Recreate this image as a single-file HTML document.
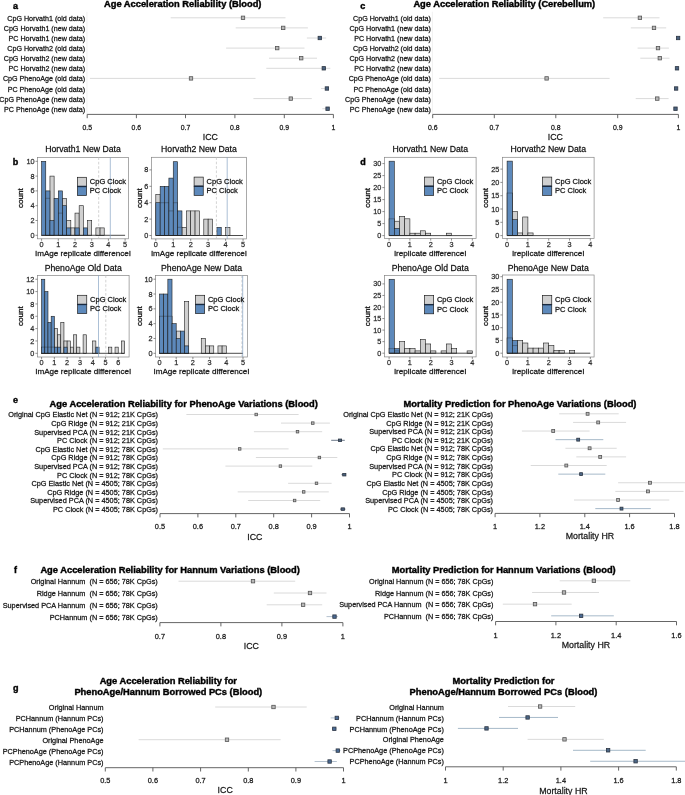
<!DOCTYPE html>
<html><head><meta charset="utf-8"><style>
html,body{margin:0;padding:0;background:#fff;}
svg{display:block;will-change:transform;} text{stroke:#000;stroke-width:0.3px;stroke-opacity:0.7;white-space:pre} text[font-weight=bold]{stroke-width:0.45px;stroke-opacity:0.9}
</style></head><body>
<svg width="685" height="795" viewBox="0 0 685 795" font-family='"Liberation Sans", sans-serif'>
<rect x="0.00" y="0.00" width="685.00" height="795.00" fill="#fff" stroke="none" stroke-width="0" />
<text x="12.90" y="8.80" font-size="9.0" text-anchor="start" font-weight="bold" fill="#000" >a</text>
<text x="360.30" y="8.80" font-size="9.0" text-anchor="start" font-weight="bold" fill="#000" >c</text>
<text x="12.80" y="164.50" font-size="9.0" text-anchor="start" font-weight="bold" fill="#000" >b</text>
<text x="360.30" y="164.50" font-size="9.0" text-anchor="start" font-weight="bold" fill="#000" >d</text>
<text x="12.90" y="403.20" font-size="9.0" text-anchor="start" font-weight="bold" fill="#000" >e</text>
<text x="14.00" y="573.40" font-size="9.0" text-anchor="start" font-weight="bold" fill="#000" >f</text>
<text x="12.90" y="690.60" font-size="9.0" text-anchor="start" font-weight="bold" fill="#000" >g</text>
<text x="104.00" y="7.10" font-size="9.32" text-anchor="start" font-weight="bold" fill="#000" >Age Acceleration Reliability (Blood)</text>
<text x="413.40" y="7.20" font-size="9.32" text-anchor="start" font-weight="bold" fill="#000" >Age Acceleration Reliability (Cerebellum)</text>
<text x="49.60" y="406.80" font-size="9.32" text-anchor="start" font-weight="bold" fill="#000" >Age Acceleration Reliability for PhenoAge Variations (Blood)</text>
<text x="403.60" y="406.60" font-size="9.32" text-anchor="start" font-weight="bold" fill="#000" >Mortality Prediction for PhenoAge Variations (Blood)</text>
<text x="40.40" y="572.80" font-size="9.32" text-anchor="start" font-weight="bold" fill="#000" >Age Acceleration Reliability for Hannum Variations (Blood)</text>
<text x="391.70" y="572.90" font-size="9.32" text-anchor="start" font-weight="bold" fill="#000" >Mortality Prediction for Hannum Variations (Blood)</text>
<text x="168.30" y="684.10" font-size="9.32" text-anchor="middle" font-weight="bold" fill="#000" >Age Acceleration Reliability for</text>
<text x="168.30" y="695.30" font-size="9.32" text-anchor="middle" font-weight="bold" fill="#000" >PhenoAge/Hannum Borrowed PCs (Blood)</text>
<text x="503.50" y="684.10" font-size="9.32" text-anchor="middle" font-weight="bold" fill="#000" >Mortality Prediction for</text>
<text x="503.50" y="695.30" font-size="9.32" text-anchor="middle" font-weight="bold" fill="#000" >PhenoAge/Hannum Borrowed PCs (Blood)</text>
<text x="85.10" y="20.86" font-size="7.15" text-anchor="end" fill="#111" >CpG Horvath1 (old data)</text>
<text x="85.10" y="30.96" font-size="7.15" text-anchor="end" fill="#111" >CpG Horvath1 (new data)</text>
<text x="85.10" y="41.06" font-size="7.15" text-anchor="end" fill="#111" >PC Horvath1 (new data)</text>
<text x="85.10" y="51.16" font-size="7.15" text-anchor="end" fill="#111" >CpG Horvath2 (old data)</text>
<text x="85.10" y="61.26" font-size="7.15" text-anchor="end" fill="#111" >CpG Horvath2 (new data)</text>
<text x="85.10" y="71.36" font-size="7.15" text-anchor="end" fill="#111" >PC Horvath2 (new data)</text>
<text x="85.10" y="81.46" font-size="7.15" text-anchor="end" fill="#111" >CpG PhenoAge (old data)</text>
<text x="85.10" y="91.56" font-size="7.15" text-anchor="end" fill="#111" >PC PhenoAge (old data)</text>
<text x="85.10" y="101.66" font-size="7.15" text-anchor="end" fill="#111" >CpG PhenoAge (new data)</text>
<text x="85.10" y="111.76" font-size="7.15" text-anchor="end" fill="#111" >PC PhenoAge (new data)</text>
<line x1="170.70" y1="17.80" x2="285.50" y2="17.80" stroke="#dadada" stroke-width="1.0" />
<line x1="235.70" y1="27.90" x2="307.90" y2="27.90" stroke="#dadada" stroke-width="1.0" />
<line x1="306.90" y1="38.00" x2="326.20" y2="38.00" stroke="#dadada" stroke-width="1.0" />
<line x1="226.10" y1="48.10" x2="304.50" y2="48.10" stroke="#dadada" stroke-width="1.0" />
<line x1="269.00" y1="58.20" x2="317.00" y2="58.20" stroke="#dadada" stroke-width="1.0" />
<line x1="266.30" y1="68.30" x2="330.30" y2="68.30" stroke="#dadada" stroke-width="1.0" />
<line x1="89.90" y1="78.40" x2="255.50" y2="78.40" stroke="#dadada" stroke-width="1.0" />
<line x1="321.00" y1="88.50" x2="328.80" y2="88.50" stroke="#dadada" stroke-width="1.0" />
<line x1="253.40" y1="98.60" x2="311.80" y2="98.60" stroke="#dadada" stroke-width="1.0" />
<line x1="322.30" y1="108.70" x2="329.70" y2="108.70" stroke="#dadada" stroke-width="1.0" />
<rect x="241.30" y="16.10" width="3.40" height="3.40" fill="#b8b8b8" stroke="#555555" stroke-width="0.8" />
<rect x="281.50" y="26.20" width="3.40" height="3.40" fill="#b8b8b8" stroke="#555555" stroke-width="0.8" />
<rect x="318.10" y="36.30" width="3.40" height="3.40" fill="#4b627e" stroke="#2c3542" stroke-width="0.8" />
<rect x="275.50" y="46.40" width="3.40" height="3.40" fill="#b8b8b8" stroke="#555555" stroke-width="0.8" />
<rect x="299.50" y="56.50" width="3.40" height="3.40" fill="#b8b8b8" stroke="#555555" stroke-width="0.8" />
<rect x="322.10" y="66.60" width="3.40" height="3.40" fill="#4b627e" stroke="#2c3542" stroke-width="0.8" />
<rect x="189.30" y="76.70" width="3.40" height="3.40" fill="#b8b8b8" stroke="#555555" stroke-width="0.8" />
<rect x="325.20" y="86.80" width="3.40" height="3.40" fill="#4b627e" stroke="#2c3542" stroke-width="0.8" />
<rect x="289.10" y="96.90" width="3.40" height="3.40" fill="#b8b8b8" stroke="#555555" stroke-width="0.8" />
<rect x="325.90" y="107.00" width="3.40" height="3.40" fill="#4b627e" stroke="#2c3542" stroke-width="0.8" />
<line x1="86.90" y1="11.80" x2="86.90" y2="114.40" stroke="#eeeeee" stroke-width="0.8" />
<line x1="87.20" y1="114.40" x2="333.40" y2="114.40" stroke="#555" stroke-width="0.9" />
<line x1="87.20" y1="114.40" x2="87.20" y2="118.20" stroke="#555" stroke-width="0.9" />
<text x="87.20" y="130.10" font-size="6.9" text-anchor="middle" fill="#222" >0.5</text>
<line x1="136.40" y1="114.40" x2="136.40" y2="118.20" stroke="#555" stroke-width="0.9" />
<text x="136.40" y="130.10" font-size="6.9" text-anchor="middle" fill="#222" >0.6</text>
<line x1="185.50" y1="114.40" x2="185.50" y2="118.20" stroke="#555" stroke-width="0.9" />
<text x="185.50" y="130.10" font-size="6.9" text-anchor="middle" fill="#222" >0.7</text>
<line x1="234.90" y1="114.40" x2="234.90" y2="118.20" stroke="#555" stroke-width="0.9" />
<text x="234.90" y="130.10" font-size="6.9" text-anchor="middle" fill="#222" >0.8</text>
<line x1="284.30" y1="114.40" x2="284.30" y2="118.20" stroke="#555" stroke-width="0.9" />
<text x="284.30" y="130.10" font-size="6.9" text-anchor="middle" fill="#222" >0.9</text>
<line x1="333.40" y1="114.40" x2="333.40" y2="118.20" stroke="#555" stroke-width="0.9" />
<text x="333.40" y="130.10" font-size="6.9" text-anchor="middle" fill="#222" >1</text>
<text x="210.30" y="140.20" font-size="8.8" text-anchor="middle" fill="#222" >ICC</text>
<text x="430.80" y="20.86" font-size="7.15" text-anchor="end" fill="#111" >CpG Horvath1 (old data)</text>
<text x="430.80" y="30.96" font-size="7.15" text-anchor="end" fill="#111" >CpG Horvath1 (new data)</text>
<text x="430.80" y="41.06" font-size="7.15" text-anchor="end" fill="#111" >PC Horvath1 (new data)</text>
<text x="430.80" y="51.16" font-size="7.15" text-anchor="end" fill="#111" >CpG Horvath2 (old data)</text>
<text x="430.80" y="61.26" font-size="7.15" text-anchor="end" fill="#111" >CpG Horvath2 (new data)</text>
<text x="430.80" y="71.36" font-size="7.15" text-anchor="end" fill="#111" >PC Horvath2 (new data)</text>
<text x="430.80" y="81.46" font-size="7.15" text-anchor="end" fill="#111" >CpG PhenoAge (old data)</text>
<text x="430.80" y="91.56" font-size="7.15" text-anchor="end" fill="#111" >PC PhenoAge (old data)</text>
<text x="430.80" y="101.66" font-size="7.15" text-anchor="end" fill="#111" >CpG PhenoAge (new data)</text>
<text x="430.80" y="111.76" font-size="7.15" text-anchor="end" fill="#111" >PC PhenoAge (new data)</text>
<line x1="603.20" y1="17.80" x2="659.50" y2="17.80" stroke="#dadada" stroke-width="1.0" />
<line x1="630.80" y1="27.90" x2="666.20" y2="27.90" stroke="#dadada" stroke-width="1.0" />
<line x1="676.50" y1="38.00" x2="679.50" y2="38.00" stroke="#dadada" stroke-width="1.0" />
<line x1="637.60" y1="48.10" x2="668.90" y2="48.10" stroke="#dadada" stroke-width="1.0" />
<line x1="640.30" y1="58.20" x2="669.50" y2="58.20" stroke="#dadada" stroke-width="1.0" />
<line x1="675.50" y1="68.30" x2="678.50" y2="68.30" stroke="#dadada" stroke-width="1.0" />
<line x1="439.20" y1="78.40" x2="609.60" y2="78.40" stroke="#dadada" stroke-width="1.0" />
<line x1="674.50" y1="88.50" x2="677.50" y2="88.50" stroke="#dadada" stroke-width="1.0" />
<line x1="635.70" y1="98.60" x2="668.60" y2="98.60" stroke="#dadada" stroke-width="1.0" />
<line x1="674.00" y1="108.70" x2="677.00" y2="108.70" stroke="#dadada" stroke-width="1.0" />
<rect x="638.20" y="16.10" width="3.40" height="3.40" fill="#b8b8b8" stroke="#555555" stroke-width="0.8" />
<rect x="652.30" y="26.20" width="3.40" height="3.40" fill="#b8b8b8" stroke="#555555" stroke-width="0.8" />
<rect x="676.40" y="36.30" width="3.40" height="3.40" fill="#4b627e" stroke="#2c3542" stroke-width="0.8" />
<rect x="656.30" y="46.40" width="3.40" height="3.40" fill="#b8b8b8" stroke="#555555" stroke-width="0.8" />
<rect x="658.10" y="56.50" width="3.40" height="3.40" fill="#b8b8b8" stroke="#555555" stroke-width="0.8" />
<rect x="675.30" y="66.60" width="3.40" height="3.40" fill="#4b627e" stroke="#2c3542" stroke-width="0.8" />
<rect x="544.90" y="76.70" width="3.40" height="3.40" fill="#b8b8b8" stroke="#555555" stroke-width="0.8" />
<rect x="674.40" y="86.80" width="3.40" height="3.40" fill="#4b627e" stroke="#2c3542" stroke-width="0.8" />
<rect x="655.60" y="96.90" width="3.40" height="3.40" fill="#b8b8b8" stroke="#555555" stroke-width="0.8" />
<rect x="673.80" y="107.00" width="3.40" height="3.40" fill="#4b627e" stroke="#2c3542" stroke-width="0.8" />
<line x1="432.40" y1="11.80" x2="432.40" y2="114.40" stroke="#eeeeee" stroke-width="0.8" />
<line x1="432.70" y1="114.40" x2="678.40" y2="114.40" stroke="#555" stroke-width="0.9" />
<line x1="432.70" y1="114.40" x2="432.70" y2="118.20" stroke="#555" stroke-width="0.9" />
<text x="432.70" y="130.10" font-size="6.9" text-anchor="middle" fill="#222" >0.6</text>
<line x1="494.30" y1="114.40" x2="494.30" y2="118.20" stroke="#555" stroke-width="0.9" />
<text x="494.30" y="130.10" font-size="6.9" text-anchor="middle" fill="#222" >0.7</text>
<line x1="555.80" y1="114.40" x2="555.80" y2="118.20" stroke="#555" stroke-width="0.9" />
<text x="555.80" y="130.10" font-size="6.9" text-anchor="middle" fill="#222" >0.8</text>
<line x1="617.70" y1="114.40" x2="617.70" y2="118.20" stroke="#555" stroke-width="0.9" />
<text x="617.70" y="130.10" font-size="6.9" text-anchor="middle" fill="#222" >0.9</text>
<line x1="678.40" y1="114.40" x2="678.40" y2="118.20" stroke="#555" stroke-width="0.9" />
<text x="678.40" y="130.10" font-size="6.9" text-anchor="middle" fill="#222" >1</text>
<text x="555.40" y="140.40" font-size="8.8" text-anchor="middle" fill="#222" >ICC</text>
<text x="158.00" y="417.30" font-size="7.32" text-anchor="end" fill="#111" >Original CpG Elastic Net (N = 912; 21K CpGs)</text>
<text x="158.00" y="425.90" font-size="7.32" text-anchor="end" fill="#111" >CpG Ridge (N = 912; 21K CpGs)</text>
<text x="158.00" y="434.50" font-size="7.32" text-anchor="end" fill="#111" >Supervised PCA (N = 912; 21K CpGs)</text>
<text x="158.00" y="443.10" font-size="7.32" text-anchor="end" fill="#111" >PC Clock (N = 912; 21K CpGs)</text>
<text x="158.00" y="451.70" font-size="7.32" text-anchor="end" fill="#111" >CpG Elastic Net (N = 912; 78K CpGs)</text>
<text x="158.00" y="460.30" font-size="7.32" text-anchor="end" fill="#111" >CpG Ridge (N = 912; 78K CpGs)</text>
<text x="158.00" y="468.90" font-size="7.32" text-anchor="end" fill="#111" >Supervised PCA (N = 912; 78K CpGs)</text>
<text x="158.00" y="477.50" font-size="7.32" text-anchor="end" fill="#111" >PC Clock (N = 912; 78K CpGs)</text>
<text x="158.00" y="486.10" font-size="7.32" text-anchor="end" fill="#111" >CpG Elastic Net (N = 4505; 78K CpGs)</text>
<text x="158.00" y="494.70" font-size="7.32" text-anchor="end" fill="#111" >CpG Ridge (N = 4505; 78K CpGs)</text>
<text x="158.00" y="503.30" font-size="7.32" text-anchor="end" fill="#111" >Supervised PCA (N = 4505; 78K CpGs)</text>
<text x="158.00" y="511.90" font-size="7.32" text-anchor="end" fill="#111" >PC Clock (N = 4505; 78K CpGs)</text>
<line x1="186.40" y1="414.50" x2="298.60" y2="414.50" stroke="#dadada" stroke-width="1.0" />
<line x1="281.00" y1="423.10" x2="329.90" y2="423.10" stroke="#dadada" stroke-width="1.0" />
<line x1="253.90" y1="431.70" x2="322.20" y2="431.70" stroke="#dadada" stroke-width="1.0" />
<line x1="331.20" y1="440.30" x2="344.80" y2="440.30" stroke="#6d7a8a" stroke-width="1.0" />
<line x1="162.80" y1="448.90" x2="288.60" y2="448.90" stroke="#dadada" stroke-width="1.0" />
<line x1="255.90" y1="457.50" x2="337.30" y2="457.50" stroke="#dadada" stroke-width="1.0" />
<line x1="225.40" y1="466.10" x2="312.30" y2="466.10" stroke="#dadada" stroke-width="1.0" />
<line x1="341.50" y1="474.70" x2="345.50" y2="474.70" stroke="#6d7a8a" stroke-width="1.0" />
<line x1="288.10" y1="483.30" x2="331.60" y2="483.30" stroke="#dadada" stroke-width="1.0" />
<line x1="237.70" y1="491.90" x2="328.80" y2="491.90" stroke="#dadada" stroke-width="1.0" />
<line x1="248.20" y1="500.50" x2="320.20" y2="500.50" stroke="#dadada" stroke-width="1.0" />
<line x1="340.00" y1="509.10" x2="345.50" y2="509.10" stroke="#6d7a8a" stroke-width="1.0" />
<rect x="254.95" y="413.25" width="2.50" height="2.50" fill="#b8b8b8" stroke="#555555" stroke-width="0.8" />
<rect x="311.55" y="421.85" width="2.50" height="2.50" fill="#b8b8b8" stroke="#555555" stroke-width="0.8" />
<rect x="296.25" y="430.45" width="2.50" height="2.50" fill="#b8b8b8" stroke="#555555" stroke-width="0.8" />
<rect x="338.40" y="439.05" width="3.20" height="2.50" fill="#4b627e" stroke="#2c3542" stroke-width="0.8" />
<rect x="238.45" y="447.65" width="2.50" height="2.50" fill="#b8b8b8" stroke="#555555" stroke-width="0.8" />
<rect x="318.15" y="456.25" width="2.50" height="2.50" fill="#b8b8b8" stroke="#555555" stroke-width="0.8" />
<rect x="279.15" y="464.85" width="2.50" height="2.50" fill="#b8b8b8" stroke="#555555" stroke-width="0.8" />
<rect x="342.70" y="473.45" width="3.20" height="2.50" fill="#4b627e" stroke="#2c3542" stroke-width="0.8" />
<rect x="315.25" y="482.05" width="2.50" height="2.50" fill="#b8b8b8" stroke="#555555" stroke-width="0.8" />
<rect x="302.45" y="490.65" width="2.50" height="2.50" fill="#b8b8b8" stroke="#555555" stroke-width="0.8" />
<rect x="293.35" y="499.25" width="2.50" height="2.50" fill="#b8b8b8" stroke="#555555" stroke-width="0.8" />
<rect x="341.20" y="507.85" width="3.20" height="2.50" fill="#4b627e" stroke="#2c3542" stroke-width="0.8" />
<line x1="160.00" y1="513.60" x2="349.50" y2="513.60" stroke="#555" stroke-width="0.9" />
<line x1="160.00" y1="513.60" x2="160.00" y2="517.40" stroke="#555" stroke-width="0.9" />
<text x="160.00" y="529.00" font-size="7.4" text-anchor="middle" fill="#222" >0.5</text>
<line x1="197.90" y1="513.60" x2="197.90" y2="517.40" stroke="#555" stroke-width="0.9" />
<text x="197.90" y="529.00" font-size="7.4" text-anchor="middle" fill="#222" >0.6</text>
<line x1="235.80" y1="513.60" x2="235.80" y2="517.40" stroke="#555" stroke-width="0.9" />
<text x="235.80" y="529.00" font-size="7.4" text-anchor="middle" fill="#222" >0.7</text>
<line x1="273.70" y1="513.60" x2="273.70" y2="517.40" stroke="#555" stroke-width="0.9" />
<text x="273.70" y="529.00" font-size="7.4" text-anchor="middle" fill="#222" >0.8</text>
<line x1="311.60" y1="513.60" x2="311.60" y2="517.40" stroke="#555" stroke-width="0.9" />
<text x="311.60" y="529.00" font-size="7.4" text-anchor="middle" fill="#222" >0.9</text>
<line x1="349.50" y1="513.60" x2="349.50" y2="517.40" stroke="#555" stroke-width="0.9" />
<text x="349.50" y="529.00" font-size="7.4" text-anchor="middle" fill="#222" >1</text>
<text x="254.80" y="539.60" font-size="8.8" text-anchor="middle" fill="#222" >ICC</text>
<text x="493.00" y="416.92" font-size="7.32" text-anchor="end" fill="#111" >Original CpG Elastic Net (N = 912; 21K CpGs)</text>
<text x="493.00" y="425.54" font-size="7.32" text-anchor="end" fill="#111" >CpG Ridge (N = 912; 21K CpGs)</text>
<text x="493.00" y="434.16" font-size="7.32" text-anchor="end" fill="#111" >Supervised PCA (N = 912; 21K CpGs)</text>
<text x="493.00" y="442.78" font-size="7.32" text-anchor="end" fill="#111" >PC Clock (N = 912; 21K CpGs)</text>
<text x="493.00" y="451.40" font-size="7.32" text-anchor="end" fill="#111" >CpG Elastic Net (N = 912; 78K CpGs)</text>
<text x="493.00" y="460.02" font-size="7.32" text-anchor="end" fill="#111" >CpG Ridge (N = 912; 78K CpGs)</text>
<text x="493.00" y="468.64" font-size="7.32" text-anchor="end" fill="#111" >Supervised PCA (N = 912; 78K CpGs)</text>
<text x="493.00" y="477.26" font-size="7.32" text-anchor="end" fill="#111" >PC Clock (N = 912; 78K CpGs)</text>
<text x="493.00" y="485.88" font-size="7.32" text-anchor="end" fill="#111" >CpG Elastic Net (N = 4505; 78K CpGs)</text>
<text x="493.00" y="494.50" font-size="7.32" text-anchor="end" fill="#111" >CpG Ridge (N = 4505; 78K CpGs)</text>
<text x="493.00" y="503.12" font-size="7.32" text-anchor="end" fill="#111" >Supervised PCA (N = 4505; 78K CpGs)</text>
<text x="493.00" y="511.74" font-size="7.32" text-anchor="end" fill="#111" >PC Clock (N = 4505; 78K CpGs)</text>
<line x1="559.20" y1="413.80" x2="618.70" y2="413.80" stroke="#dadada" stroke-width="1.0" />
<line x1="573.10" y1="422.42" x2="626.10" y2="422.42" stroke="#dadada" stroke-width="1.0" />
<line x1="521.90" y1="431.04" x2="589.60" y2="431.04" stroke="#dadada" stroke-width="1.0" />
<line x1="555.50" y1="439.66" x2="603.30" y2="439.66" stroke="#a6b9c9" stroke-width="1.0" />
<line x1="565.40" y1="448.28" x2="616.70" y2="448.28" stroke="#dadada" stroke-width="1.0" />
<line x1="576.30" y1="456.90" x2="626.10" y2="456.90" stroke="#dadada" stroke-width="1.0" />
<line x1="530.70" y1="465.52" x2="606.70" y2="465.52" stroke="#dadada" stroke-width="1.0" />
<line x1="558.30" y1="474.14" x2="605.30" y2="474.14" stroke="#a6b9c9" stroke-width="1.0" />
<line x1="618.10" y1="482.76" x2="686.00" y2="482.76" stroke="#dadada" stroke-width="1.0" />
<line x1="615.30" y1="491.38" x2="683.60" y2="491.38" stroke="#dadada" stroke-width="1.0" />
<line x1="574.00" y1="500.00" x2="669.30" y2="500.00" stroke="#dadada" stroke-width="1.0" />
<line x1="595.30" y1="508.62" x2="650.80" y2="508.62" stroke="#a6b9c9" stroke-width="1.0" />
<rect x="586.15" y="412.35" width="2.90" height="2.90" fill="#b8b8b8" stroke="#555555" stroke-width="0.8" />
<rect x="596.75" y="420.97" width="2.90" height="2.90" fill="#b8b8b8" stroke="#555555" stroke-width="0.8" />
<rect x="551.75" y="429.59" width="2.90" height="2.90" fill="#b8b8b8" stroke="#555555" stroke-width="0.8" />
<rect x="576.75" y="438.21" width="2.90" height="2.90" fill="#4d6888" stroke="#2c3542" stroke-width="0.8" />
<rect x="588.15" y="446.83" width="2.90" height="2.90" fill="#b8b8b8" stroke="#555555" stroke-width="0.8" />
<rect x="598.75" y="455.45" width="2.90" height="2.90" fill="#b8b8b8" stroke="#555555" stroke-width="0.8" />
<rect x="564.85" y="464.07" width="2.90" height="2.90" fill="#b8b8b8" stroke="#555555" stroke-width="0.8" />
<rect x="579.65" y="472.69" width="2.90" height="2.90" fill="#4d6888" stroke="#2c3542" stroke-width="0.8" />
<rect x="648.55" y="481.31" width="2.90" height="2.90" fill="#b8b8b8" stroke="#555555" stroke-width="0.8" />
<rect x="646.55" y="489.93" width="2.90" height="2.90" fill="#b8b8b8" stroke="#555555" stroke-width="0.8" />
<rect x="616.65" y="498.55" width="2.90" height="2.90" fill="#b8b8b8" stroke="#555555" stroke-width="0.8" />
<rect x="620.05" y="507.17" width="2.90" height="2.90" fill="#4d6888" stroke="#2c3542" stroke-width="0.8" />
<line x1="495.10" y1="513.40" x2="674.50" y2="513.40" stroke="#555" stroke-width="0.9" />
<line x1="495.10" y1="513.40" x2="495.10" y2="517.20" stroke="#555" stroke-width="0.9" />
<text x="495.10" y="529.00" font-size="7.4" text-anchor="middle" fill="#222" >1</text>
<line x1="539.90" y1="513.40" x2="539.90" y2="517.20" stroke="#555" stroke-width="0.9" />
<text x="539.90" y="529.00" font-size="7.4" text-anchor="middle" fill="#222" >1.2</text>
<line x1="584.80" y1="513.40" x2="584.80" y2="517.20" stroke="#555" stroke-width="0.9" />
<text x="584.80" y="529.00" font-size="7.4" text-anchor="middle" fill="#222" >1.4</text>
<line x1="629.60" y1="513.40" x2="629.60" y2="517.20" stroke="#555" stroke-width="0.9" />
<text x="629.60" y="529.00" font-size="7.4" text-anchor="middle" fill="#222" >1.6</text>
<line x1="674.50" y1="513.40" x2="674.50" y2="517.20" stroke="#555" stroke-width="0.9" />
<text x="674.50" y="529.00" font-size="7.4" text-anchor="middle" fill="#222" >1.8</text>
<text x="589.90" y="539.00" font-size="8.8" text-anchor="middle" fill="#222" >Mortality HR</text>
<text x="157.80" y="584.31" font-size="7.3" text-anchor="end" fill="#111" >Original Hannum  (N = 656; 78K CpGs)</text>
<text x="157.80" y="596.11" font-size="7.3" text-anchor="end" fill="#111" >Ridge Hannum  (N = 656; 78K CpGs)</text>
<text x="157.80" y="607.91" font-size="7.3" text-anchor="end" fill="#111" >Supervised PCA Hannum  (N = 656; 78K CpGs)</text>
<text x="157.80" y="619.71" font-size="7.3" text-anchor="end" fill="#111" >PCHannum (N = 656; 78K CpGs)</text>
<line x1="178.50" y1="581.20" x2="295.20" y2="581.20" stroke="#dadada" stroke-width="1.0" />
<line x1="273.80" y1="593.00" x2="326.50" y2="593.00" stroke="#dadada" stroke-width="1.0" />
<line x1="266.70" y1="604.80" x2="322.20" y2="604.80" stroke="#dadada" stroke-width="1.0" />
<line x1="326.50" y1="616.60" x2="337.90" y2="616.60" stroke="#b4c2cf" stroke-width="1.0" />
<rect x="251.30" y="579.50" width="3.40" height="3.40" fill="#b8b8b8" stroke="#555555" stroke-width="0.8" />
<rect x="308.30" y="591.30" width="3.40" height="3.40" fill="#b8b8b8" stroke="#555555" stroke-width="0.8" />
<rect x="301.40" y="603.10" width="3.40" height="3.40" fill="#b8b8b8" stroke="#555555" stroke-width="0.8" />
<rect x="332.80" y="614.90" width="3.40" height="3.40" fill="#4a6a94" stroke="#2c3542" stroke-width="0.8" />
<line x1="159.90" y1="622.60" x2="342.90" y2="622.60" stroke="#555" stroke-width="0.9" />
<line x1="159.90" y1="622.60" x2="159.90" y2="626.40" stroke="#555" stroke-width="0.9" />
<text x="159.90" y="638.80" font-size="7.4" text-anchor="middle" fill="#222" >0.7</text>
<line x1="220.90" y1="622.60" x2="220.90" y2="626.40" stroke="#555" stroke-width="0.9" />
<text x="220.90" y="638.80" font-size="7.4" text-anchor="middle" fill="#222" >0.8</text>
<line x1="281.90" y1="622.60" x2="281.90" y2="626.40" stroke="#555" stroke-width="0.9" />
<text x="281.90" y="638.80" font-size="7.4" text-anchor="middle" fill="#222" >0.9</text>
<line x1="342.90" y1="622.60" x2="342.90" y2="626.40" stroke="#555" stroke-width="0.9" />
<text x="342.90" y="638.80" font-size="7.4" text-anchor="middle" fill="#222" >1</text>
<text x="251.40" y="649.40" font-size="8.8" text-anchor="middle" fill="#222" >ICC</text>
<text x="493.40" y="583.89" font-size="7.25" text-anchor="end" fill="#111" >Original Hannum (N = 656; 78K CpGs)</text>
<text x="493.40" y="595.57" font-size="7.25" text-anchor="end" fill="#111" >Ridge Hannum (N = 656; 78K CpGs)</text>
<text x="493.40" y="607.25" font-size="7.25" text-anchor="end" fill="#111" >Supervised PCA Hannum  (N = 656; 78K CpGs)</text>
<text x="493.40" y="618.93" font-size="7.25" text-anchor="end" fill="#111" >PCHannum  (N = 656; 78K CpGs)</text>
<line x1="559.70" y1="580.80" x2="630.30" y2="580.80" stroke="#dadada" stroke-width="1.0" />
<line x1="532.10" y1="592.48" x2="599.00" y2="592.48" stroke="#dadada" stroke-width="1.0" />
<line x1="502.80" y1="604.16" x2="571.70" y2="604.16" stroke="#dadada" stroke-width="1.0" />
<line x1="551.20" y1="615.84" x2="613.80" y2="615.84" stroke="#a6b9c9" stroke-width="1.0" />
<rect x="592.20" y="579.10" width="3.40" height="3.40" fill="#b8b8b8" stroke="#555555" stroke-width="0.8" />
<rect x="562.30" y="590.78" width="3.40" height="3.40" fill="#b8b8b8" stroke="#555555" stroke-width="0.8" />
<rect x="533.30" y="602.46" width="3.40" height="3.40" fill="#b8b8b8" stroke="#555555" stroke-width="0.8" />
<rect x="579.40" y="614.14" width="3.40" height="3.40" fill="#4a6a94" stroke="#2c3542" stroke-width="0.8" />
<line x1="495.60" y1="621.50" x2="676.50" y2="621.50" stroke="#555" stroke-width="0.9" />
<line x1="495.60" y1="621.50" x2="495.60" y2="625.30" stroke="#555" stroke-width="0.9" />
<text x="495.60" y="638.00" font-size="7.4" text-anchor="middle" fill="#222" >1</text>
<line x1="555.90" y1="621.50" x2="555.90" y2="625.30" stroke="#555" stroke-width="0.9" />
<text x="555.90" y="638.00" font-size="7.4" text-anchor="middle" fill="#222" >1.2</text>
<line x1="616.20" y1="621.50" x2="616.20" y2="625.30" stroke="#555" stroke-width="0.9" />
<text x="616.20" y="638.00" font-size="7.4" text-anchor="middle" fill="#222" >1.4</text>
<line x1="676.50" y1="621.50" x2="676.50" y2="625.30" stroke="#555" stroke-width="0.9" />
<text x="676.50" y="638.00" font-size="7.4" text-anchor="middle" fill="#222" >1.6</text>
<text x="585.90" y="648.00" font-size="8.8" text-anchor="middle" fill="#222" >Mortality HR</text>
<text x="103.50" y="710.11" font-size="7.29" text-anchor="end" fill="#111" >Original Hannum</text>
<text x="103.50" y="721.01" font-size="7.29" text-anchor="end" fill="#111" >PCHannum (Hannum PCs)</text>
<text x="103.50" y="731.91" font-size="7.29" text-anchor="end" fill="#111" >PCHannum (PhenoAge PCs)</text>
<text x="103.50" y="742.81" font-size="7.29" text-anchor="end" fill="#111" >Original PhenoAge</text>
<text x="103.50" y="753.71" font-size="7.29" text-anchor="end" fill="#111" >PCPhenoAge (PhenoAge PCs)</text>
<text x="103.50" y="764.61" font-size="7.29" text-anchor="end" fill="#111" >PCPhenoAge (Hannum PCs)</text>
<line x1="215.20" y1="707.00" x2="306.70" y2="707.00" stroke="#dadada" stroke-width="1.0" />
<line x1="330.70" y1="717.90" x2="339.60" y2="717.90" stroke="#b4c2cf" stroke-width="1.0" />
<line x1="332.00" y1="728.80" x2="336.50" y2="728.80" stroke="#b4c2cf" stroke-width="1.0" />
<line x1="138.60" y1="739.70" x2="280.60" y2="739.70" stroke="#dadada" stroke-width="1.0" />
<line x1="332.50" y1="750.60" x2="340.50" y2="750.60" stroke="#b4c2cf" stroke-width="1.0" />
<line x1="314.60" y1="761.50" x2="336.80" y2="761.50" stroke="#b4c2cf" stroke-width="1.0" />
<rect x="271.80" y="705.30" width="3.40" height="3.40" fill="#b8b8b8" stroke="#555555" stroke-width="0.8" />
<rect x="335.10" y="716.20" width="3.40" height="3.40" fill="#4a6a94" stroke="#2c3542" stroke-width="0.8" />
<rect x="332.60" y="727.10" width="3.40" height="3.40" fill="#4a6a94" stroke="#2c3542" stroke-width="0.8" />
<rect x="225.30" y="738.00" width="3.40" height="3.40" fill="#b8b8b8" stroke="#555555" stroke-width="0.8" />
<rect x="336.10" y="748.90" width="3.40" height="3.40" fill="#4a6a94" stroke="#2c3542" stroke-width="0.8" />
<rect x="327.90" y="759.80" width="3.40" height="3.40" fill="#4a6a94" stroke="#2c3542" stroke-width="0.8" />
<line x1="105.30" y1="767.70" x2="343.50" y2="767.70" stroke="#555" stroke-width="0.9" />
<line x1="105.30" y1="767.70" x2="105.30" y2="771.50" stroke="#555" stroke-width="0.9" />
<text x="105.30" y="783.00" font-size="7.4" text-anchor="middle" fill="#222" >0.5</text>
<line x1="152.90" y1="767.70" x2="152.90" y2="771.50" stroke="#555" stroke-width="0.9" />
<text x="152.90" y="783.00" font-size="7.4" text-anchor="middle" fill="#222" >0.6</text>
<line x1="200.60" y1="767.70" x2="200.60" y2="771.50" stroke="#555" stroke-width="0.9" />
<text x="200.60" y="783.00" font-size="7.4" text-anchor="middle" fill="#222" >0.7</text>
<line x1="248.30" y1="767.70" x2="248.30" y2="771.50" stroke="#555" stroke-width="0.9" />
<text x="248.30" y="783.00" font-size="7.4" text-anchor="middle" fill="#222" >0.8</text>
<line x1="295.90" y1="767.70" x2="295.90" y2="771.50" stroke="#555" stroke-width="0.9" />
<text x="295.90" y="783.00" font-size="7.4" text-anchor="middle" fill="#222" >0.9</text>
<line x1="343.50" y1="767.70" x2="343.50" y2="771.50" stroke="#555" stroke-width="0.9" />
<text x="343.50" y="783.00" font-size="7.4" text-anchor="middle" fill="#222" >1</text>
<text x="225.20" y="793.30" font-size="8.8" text-anchor="middle" fill="#222" >ICC</text>
<text x="443.90" y="709.61" font-size="7.29" text-anchor="end" fill="#111" >Original Hannum</text>
<text x="443.90" y="720.56" font-size="7.29" text-anchor="end" fill="#111" >PCHannum (Hannum PCs)</text>
<text x="443.90" y="731.51" font-size="7.29" text-anchor="end" fill="#111" >PCHannum (PhenoAge PCs)</text>
<text x="443.90" y="742.46" font-size="7.29" text-anchor="end" fill="#111" >Original PhenoAge</text>
<text x="443.90" y="753.41" font-size="7.29" text-anchor="end" fill="#111" >PCPhenoAge (PhenoAge PCs)</text>
<text x="443.90" y="764.36" font-size="7.29" text-anchor="end" fill="#111" >PCPhenoAge (Hannum PCs)</text>
<line x1="508.00" y1="706.50" x2="575.20" y2="706.50" stroke="#dadada" stroke-width="1.0" />
<line x1="499.00" y1="717.45" x2="558.00" y2="717.45" stroke="#a6b9c9" stroke-width="1.0" />
<line x1="457.90" y1="728.40" x2="518.00" y2="728.40" stroke="#a6b9c9" stroke-width="1.0" />
<line x1="527.60" y1="739.35" x2="603.80" y2="739.35" stroke="#dadada" stroke-width="1.0" />
<line x1="573.00" y1="750.30" x2="645.70" y2="750.30" stroke="#a6b9c9" stroke-width="1.0" />
<line x1="590.20" y1="761.25" x2="686.00" y2="761.25" stroke="#a6b9c9" stroke-width="1.0" />
<rect x="538.40" y="704.80" width="3.40" height="3.40" fill="#b8b8b8" stroke="#555555" stroke-width="0.8" />
<rect x="525.90" y="715.75" width="3.40" height="3.40" fill="#4d6888" stroke="#2c3542" stroke-width="0.8" />
<rect x="484.80" y="726.70" width="3.40" height="3.40" fill="#4d6888" stroke="#2c3542" stroke-width="0.8" />
<rect x="562.80" y="737.65" width="3.40" height="3.40" fill="#b8b8b8" stroke="#555555" stroke-width="0.8" />
<rect x="606.40" y="748.60" width="3.40" height="3.40" fill="#4d6888" stroke="#2c3542" stroke-width="0.8" />
<rect x="633.90" y="759.55" width="3.40" height="3.40" fill="#4d6888" stroke="#2c3542" stroke-width="0.8" />
<line x1="445.50" y1="766.80" x2="676.30" y2="766.80" stroke="#555" stroke-width="0.9" />
<line x1="445.50" y1="766.80" x2="445.50" y2="770.60" stroke="#555" stroke-width="0.9" />
<text x="445.50" y="783.00" font-size="7.4" text-anchor="middle" fill="#222" >1</text>
<line x1="503.20" y1="766.80" x2="503.20" y2="770.60" stroke="#555" stroke-width="0.9" />
<text x="503.20" y="783.00" font-size="7.4" text-anchor="middle" fill="#222" >1.2</text>
<line x1="560.90" y1="766.80" x2="560.90" y2="770.60" stroke="#555" stroke-width="0.9" />
<text x="560.90" y="783.00" font-size="7.4" text-anchor="middle" fill="#222" >1.4</text>
<line x1="618.60" y1="766.80" x2="618.60" y2="770.60" stroke="#555" stroke-width="0.9" />
<text x="618.60" y="783.00" font-size="7.4" text-anchor="middle" fill="#222" >1.6</text>
<line x1="676.30" y1="766.80" x2="676.30" y2="770.60" stroke="#555" stroke-width="0.9" />
<text x="676.30" y="783.00" font-size="7.4" text-anchor="middle" fill="#222" >1.8</text>
<text x="563.40" y="794.00" font-size="8.8" text-anchor="middle" fill="#222" >Mortality HR</text>
<rect x="37.50" y="157.40" width="91.00" height="81.40" fill="#fff" stroke="#858585" stroke-width="0.7" />
<rect x="45.77" y="198.30" width="4.17" height="37.00" fill="#d0d0d0" stroke="#1e1e1e" stroke-width="0.6" />
<rect x="49.95" y="176.10" width="4.17" height="59.20" fill="#d0d0d0" stroke="#1e1e1e" stroke-width="0.6" />
<rect x="58.30" y="213.10" width="4.17" height="22.20" fill="#d0d0d0" stroke="#1e1e1e" stroke-width="0.6" />
<rect x="62.48" y="198.30" width="4.17" height="37.00" fill="#d0d0d0" stroke="#1e1e1e" stroke-width="0.6" />
<rect x="66.65" y="220.50" width="4.17" height="14.80" fill="#d0d0d0" stroke="#1e1e1e" stroke-width="0.6" />
<rect x="70.83" y="227.90" width="4.17" height="7.40" fill="#d0d0d0" stroke="#1e1e1e" stroke-width="0.6" />
<rect x="75.00" y="213.10" width="4.17" height="22.20" fill="#d0d0d0" stroke="#1e1e1e" stroke-width="0.6" />
<rect x="79.17" y="205.70" width="4.17" height="29.60" fill="#d0d0d0" stroke="#1e1e1e" stroke-width="0.6" />
<rect x="87.53" y="220.50" width="4.17" height="14.80" fill="#d0d0d0" stroke="#1e1e1e" stroke-width="0.6" />
<rect x="95.88" y="227.90" width="4.17" height="7.40" fill="#d0d0d0" stroke="#1e1e1e" stroke-width="0.6" />
<rect x="100.05" y="227.90" width="4.17" height="7.40" fill="#d0d0d0" stroke="#1e1e1e" stroke-width="0.6" />
<rect x="41.60" y="161.30" width="4.17" height="74.00" fill="#5d89bb" stroke="#1e1e1e" stroke-width="0.6" />
<rect x="45.77" y="190.90" width="4.17" height="44.40" fill="#5d89bb" stroke="#1e1e1e" stroke-width="0.6" />
<rect x="49.95" y="220.50" width="4.17" height="14.80" fill="#5d89bb" stroke="#1e1e1e" stroke-width="0.6" />
<rect x="54.12" y="198.30" width="4.17" height="37.00" fill="#5d89bb" stroke="#1e1e1e" stroke-width="0.6" />
<rect x="58.30" y="190.90" width="4.17" height="44.40" fill="#5d89bb" stroke="#1e1e1e" stroke-width="0.6" />
<rect x="62.48" y="205.70" width="4.17" height="29.60" fill="#5d89bb" stroke="#1e1e1e" stroke-width="0.6" />
<rect x="66.65" y="227.90" width="4.17" height="7.40" fill="#5d89bb" stroke="#1e1e1e" stroke-width="0.6" />
<rect x="75.00" y="227.90" width="4.17" height="7.40" fill="#5d89bb" stroke="#1e1e1e" stroke-width="0.6" />
<rect x="83.35" y="227.90" width="4.17" height="7.40" fill="#5d89bb" stroke="#1e1e1e" stroke-width="0.6" />
<line x1="45.77" y1="198.30" x2="49.95" y2="198.30" stroke="#1e1e1e" stroke-width="0.6" stroke-opacity="0.55"/>
<line x1="58.30" y1="213.10" x2="62.48" y2="213.10" stroke="#1e1e1e" stroke-width="0.6" stroke-opacity="0.55"/>
<line x1="41.60" y1="235.30" x2="125.10" y2="235.30" stroke="#1e1e1e" stroke-width="0.8" />
<line x1="98.70" y1="157.40" x2="98.70" y2="238.80" stroke="#c4c4c4" stroke-width="0.75" stroke-dasharray="2.6,1.8"/>
<line x1="110.30" y1="157.40" x2="110.30" y2="238.80" stroke="#7f9dbf" stroke-width="0.65" />
<line x1="35.50" y1="235.30" x2="37.50" y2="235.30" stroke="#444" stroke-width="0.6" />
<text x="34.50" y="237.86" font-size="7.3" text-anchor="end" fill="#4d4d4d" >0</text>
<line x1="35.50" y1="220.50" x2="37.50" y2="220.50" stroke="#444" stroke-width="0.6" />
<text x="34.50" y="223.06" font-size="7.3" text-anchor="end" fill="#4d4d4d" >2</text>
<line x1="35.50" y1="205.70" x2="37.50" y2="205.70" stroke="#444" stroke-width="0.6" />
<text x="34.50" y="208.26" font-size="7.3" text-anchor="end" fill="#4d4d4d" >4</text>
<line x1="35.50" y1="190.90" x2="37.50" y2="190.90" stroke="#444" stroke-width="0.6" />
<text x="34.50" y="193.46" font-size="7.3" text-anchor="end" fill="#4d4d4d" >6</text>
<line x1="35.50" y1="176.10" x2="37.50" y2="176.10" stroke="#444" stroke-width="0.6" />
<text x="34.50" y="178.66" font-size="7.3" text-anchor="end" fill="#4d4d4d" >8</text>
<line x1="35.50" y1="161.30" x2="37.50" y2="161.30" stroke="#444" stroke-width="0.6" />
<text x="34.50" y="163.86" font-size="7.3" text-anchor="end" fill="#4d4d4d" >10</text>
<line x1="41.60" y1="238.80" x2="41.60" y2="240.80" stroke="#444" stroke-width="0.6" />
<text x="41.60" y="247.00" font-size="7.3" text-anchor="middle" fill="#4d4d4d" >0</text>
<line x1="58.30" y1="238.80" x2="58.30" y2="240.80" stroke="#444" stroke-width="0.6" />
<text x="58.30" y="247.00" font-size="7.3" text-anchor="middle" fill="#4d4d4d" >1</text>
<line x1="75.00" y1="238.80" x2="75.00" y2="240.80" stroke="#444" stroke-width="0.6" />
<text x="75.00" y="247.00" font-size="7.3" text-anchor="middle" fill="#4d4d4d" >2</text>
<line x1="91.70" y1="238.80" x2="91.70" y2="240.80" stroke="#444" stroke-width="0.6" />
<text x="91.70" y="247.00" font-size="7.3" text-anchor="middle" fill="#4d4d4d" >3</text>
<line x1="108.40" y1="238.80" x2="108.40" y2="240.80" stroke="#444" stroke-width="0.6" />
<text x="108.40" y="247.00" font-size="7.3" text-anchor="middle" fill="#4d4d4d" >4</text>
<line x1="125.10" y1="238.80" x2="125.10" y2="240.80" stroke="#444" stroke-width="0.6" />
<text x="125.10" y="247.00" font-size="7.3" text-anchor="middle" fill="#4d4d4d" >5</text>
<rect x="77.40" y="177.30" width="9.15" height="9.15" fill="#d0d0d0" stroke="#1e1e1e" stroke-width="0.7" />
<rect x="77.40" y="186.45" width="9.15" height="9.15" fill="#5d89bb" stroke="#1e1e1e" stroke-width="0.7" />
<line x1="77.40" y1="186.45" x2="86.55" y2="186.45" stroke="#1a2a40" stroke-width="1.4" />
<text x="89.85" y="184.26" font-size="7.5" text-anchor="start" fill="#111" >CpG Clock</text>
<text x="89.85" y="193.41" font-size="7.5" text-anchor="start" fill="#111" >PC Clock</text>
<text x="83.00" y="152.30" font-size="8.68" text-anchor="middle" fill="#111" >Horvath1 New Data</text>
<text x="83.00" y="256.40" font-size="8.1" text-anchor="middle" fill="#111" >ImAge replicate differenceI</text>
<text x="0" y="0" font-size="8.1" text-anchor="middle" fill="#111" transform="translate(23.40,198.10) rotate(-90)" style="stroke-width:0.35px;stroke-opacity:0.8">count</text>
<rect x="151.40" y="157.30" width="95.10" height="81.60" fill="#fff" stroke="#858585" stroke-width="0.7" />
<rect x="155.80" y="194.50" width="4.36" height="41.00" fill="#d0d0d0" stroke="#1e1e1e" stroke-width="0.6" />
<rect x="160.16" y="202.70" width="4.36" height="32.80" fill="#d0d0d0" stroke="#1e1e1e" stroke-width="0.6" />
<rect x="164.53" y="202.70" width="4.36" height="32.80" fill="#d0d0d0" stroke="#1e1e1e" stroke-width="0.6" />
<rect x="168.89" y="210.90" width="4.36" height="24.60" fill="#d0d0d0" stroke="#1e1e1e" stroke-width="0.6" />
<rect x="173.25" y="202.70" width="4.36" height="32.80" fill="#d0d0d0" stroke="#1e1e1e" stroke-width="0.6" />
<rect x="177.61" y="227.30" width="4.36" height="8.20" fill="#d0d0d0" stroke="#1e1e1e" stroke-width="0.6" />
<rect x="181.98" y="227.30" width="4.36" height="8.20" fill="#d0d0d0" stroke="#1e1e1e" stroke-width="0.6" />
<rect x="186.34" y="210.90" width="4.36" height="24.60" fill="#d0d0d0" stroke="#1e1e1e" stroke-width="0.6" />
<rect x="190.70" y="210.90" width="4.36" height="24.60" fill="#d0d0d0" stroke="#1e1e1e" stroke-width="0.6" />
<rect x="195.06" y="210.90" width="4.36" height="24.60" fill="#d0d0d0" stroke="#1e1e1e" stroke-width="0.6" />
<rect x="203.79" y="219.10" width="4.36" height="16.40" fill="#d0d0d0" stroke="#1e1e1e" stroke-width="0.6" />
<rect x="208.15" y="219.10" width="4.36" height="16.40" fill="#d0d0d0" stroke="#1e1e1e" stroke-width="0.6" />
<rect x="225.60" y="227.30" width="4.36" height="8.20" fill="#d0d0d0" stroke="#1e1e1e" stroke-width="0.6" />
<rect x="155.80" y="202.70" width="4.36" height="32.80" fill="#5d89bb" stroke="#1e1e1e" stroke-width="0.6" />
<rect x="160.16" y="186.30" width="4.36" height="49.20" fill="#5d89bb" stroke="#1e1e1e" stroke-width="0.6" />
<rect x="164.53" y="186.30" width="4.36" height="49.20" fill="#5d89bb" stroke="#1e1e1e" stroke-width="0.6" />
<rect x="168.89" y="178.10" width="4.36" height="57.40" fill="#5d89bb" stroke="#1e1e1e" stroke-width="0.6" />
<rect x="173.25" y="161.70" width="4.36" height="73.80" fill="#5d89bb" stroke="#1e1e1e" stroke-width="0.6" />
<rect x="177.61" y="210.90" width="4.36" height="24.60" fill="#5d89bb" stroke="#1e1e1e" stroke-width="0.6" />
<rect x="216.88" y="227.30" width="4.36" height="8.20" fill="#5d89bb" stroke="#1e1e1e" stroke-width="0.6" />
<line x1="160.16" y1="202.70" x2="164.53" y2="202.70" stroke="#1e1e1e" stroke-width="0.6" stroke-opacity="0.55"/>
<line x1="164.53" y1="202.70" x2="168.89" y2="202.70" stroke="#1e1e1e" stroke-width="0.6" stroke-opacity="0.55"/>
<line x1="168.89" y1="210.90" x2="173.25" y2="210.90" stroke="#1e1e1e" stroke-width="0.6" stroke-opacity="0.55"/>
<line x1="173.25" y1="202.70" x2="177.61" y2="202.70" stroke="#1e1e1e" stroke-width="0.6" stroke-opacity="0.55"/>
<line x1="177.61" y1="227.30" x2="181.98" y2="227.30" stroke="#1e1e1e" stroke-width="0.6" stroke-opacity="0.55"/>
<line x1="155.80" y1="235.50" x2="243.05" y2="235.50" stroke="#1e1e1e" stroke-width="0.8" />
<line x1="216.40" y1="157.30" x2="216.40" y2="238.90" stroke="#c4c4c4" stroke-width="0.75" stroke-dasharray="2.6,1.8"/>
<line x1="227.20" y1="157.30" x2="227.20" y2="238.90" stroke="#7f9dbf" stroke-width="0.65" />
<line x1="149.40" y1="235.50" x2="151.40" y2="235.50" stroke="#444" stroke-width="0.6" />
<text x="148.40" y="238.06" font-size="7.3" text-anchor="end" fill="#4d4d4d" >0</text>
<line x1="149.40" y1="219.10" x2="151.40" y2="219.10" stroke="#444" stroke-width="0.6" />
<text x="148.40" y="221.66" font-size="7.3" text-anchor="end" fill="#4d4d4d" >2</text>
<line x1="149.40" y1="202.70" x2="151.40" y2="202.70" stroke="#444" stroke-width="0.6" />
<text x="148.40" y="205.25" font-size="7.3" text-anchor="end" fill="#4d4d4d" >4</text>
<line x1="149.40" y1="186.30" x2="151.40" y2="186.30" stroke="#444" stroke-width="0.6" />
<text x="148.40" y="188.86" font-size="7.3" text-anchor="end" fill="#4d4d4d" >6</text>
<line x1="149.40" y1="169.90" x2="151.40" y2="169.90" stroke="#444" stroke-width="0.6" />
<text x="148.40" y="172.46" font-size="7.3" text-anchor="end" fill="#4d4d4d" >8</text>
<line x1="155.80" y1="238.90" x2="155.80" y2="240.90" stroke="#444" stroke-width="0.6" />
<text x="155.80" y="247.00" font-size="7.3" text-anchor="middle" fill="#4d4d4d" >0</text>
<line x1="173.25" y1="238.90" x2="173.25" y2="240.90" stroke="#444" stroke-width="0.6" />
<text x="173.25" y="247.00" font-size="7.3" text-anchor="middle" fill="#4d4d4d" >1</text>
<line x1="190.70" y1="238.90" x2="190.70" y2="240.90" stroke="#444" stroke-width="0.6" />
<text x="190.70" y="247.00" font-size="7.3" text-anchor="middle" fill="#4d4d4d" >2</text>
<line x1="208.15" y1="238.90" x2="208.15" y2="240.90" stroke="#444" stroke-width="0.6" />
<text x="208.15" y="247.00" font-size="7.3" text-anchor="middle" fill="#4d4d4d" >3</text>
<line x1="225.60" y1="238.90" x2="225.60" y2="240.90" stroke="#444" stroke-width="0.6" />
<text x="225.60" y="247.00" font-size="7.3" text-anchor="middle" fill="#4d4d4d" >4</text>
<line x1="243.05" y1="238.90" x2="243.05" y2="240.90" stroke="#444" stroke-width="0.6" />
<text x="243.05" y="247.00" font-size="7.3" text-anchor="middle" fill="#4d4d4d" >5</text>
<rect x="194.10" y="177.10" width="9.15" height="9.15" fill="#d0d0d0" stroke="#1e1e1e" stroke-width="0.7" />
<rect x="194.10" y="186.25" width="9.15" height="9.15" fill="#5d89bb" stroke="#1e1e1e" stroke-width="0.7" />
<line x1="194.10" y1="186.25" x2="203.25" y2="186.25" stroke="#1a2a40" stroke-width="1.4" />
<text x="206.55" y="184.06" font-size="7.5" text-anchor="start" fill="#111" >CpG Clock</text>
<text x="206.55" y="193.21" font-size="7.5" text-anchor="start" fill="#111" >PC Clock</text>
<text x="198.95" y="152.30" font-size="8.68" text-anchor="middle" fill="#111" >Horvath2 New Data</text>
<text x="198.95" y="256.40" font-size="8.1" text-anchor="middle" fill="#111" >ImAge replicate differenceI</text>
<text x="0" y="0" font-size="8.1" text-anchor="middle" fill="#111" transform="translate(142.40,198.10) rotate(-90)" style="stroke-width:0.35px;stroke-opacity:0.8">count</text>
<rect x="37.40" y="275.40" width="91.70" height="81.60" fill="#fff" stroke="#858585" stroke-width="0.7" />
<rect x="41.60" y="347.13" width="3.19" height="6.17" fill="#d0d0d0" stroke="#1e1e1e" stroke-width="0.6" />
<rect x="44.79" y="347.13" width="3.19" height="6.17" fill="#d0d0d0" stroke="#1e1e1e" stroke-width="0.6" />
<rect x="47.98" y="347.13" width="3.19" height="6.17" fill="#d0d0d0" stroke="#1e1e1e" stroke-width="0.6" />
<rect x="51.18" y="347.13" width="3.19" height="6.17" fill="#d0d0d0" stroke="#1e1e1e" stroke-width="0.6" />
<rect x="54.37" y="328.62" width="3.19" height="24.68" fill="#d0d0d0" stroke="#1e1e1e" stroke-width="0.6" />
<rect x="57.56" y="334.79" width="3.19" height="18.51" fill="#d0d0d0" stroke="#1e1e1e" stroke-width="0.6" />
<rect x="60.76" y="322.45" width="3.19" height="30.85" fill="#d0d0d0" stroke="#1e1e1e" stroke-width="0.6" />
<rect x="63.95" y="340.96" width="3.19" height="12.34" fill="#d0d0d0" stroke="#1e1e1e" stroke-width="0.6" />
<rect x="67.14" y="340.96" width="3.19" height="12.34" fill="#d0d0d0" stroke="#1e1e1e" stroke-width="0.6" />
<rect x="70.33" y="347.13" width="3.19" height="6.17" fill="#d0d0d0" stroke="#1e1e1e" stroke-width="0.6" />
<rect x="73.53" y="334.79" width="3.19" height="18.51" fill="#d0d0d0" stroke="#1e1e1e" stroke-width="0.6" />
<rect x="76.72" y="347.13" width="3.19" height="6.17" fill="#d0d0d0" stroke="#1e1e1e" stroke-width="0.6" />
<rect x="83.10" y="334.79" width="3.19" height="18.51" fill="#d0d0d0" stroke="#1e1e1e" stroke-width="0.6" />
<rect x="92.68" y="340.96" width="3.19" height="12.34" fill="#d0d0d0" stroke="#1e1e1e" stroke-width="0.6" />
<rect x="108.64" y="347.13" width="3.19" height="6.17" fill="#d0d0d0" stroke="#1e1e1e" stroke-width="0.6" />
<rect x="115.03" y="347.13" width="3.19" height="6.17" fill="#d0d0d0" stroke="#1e1e1e" stroke-width="0.6" />
<rect x="121.41" y="340.96" width="3.19" height="12.34" fill="#d0d0d0" stroke="#1e1e1e" stroke-width="0.6" />
<rect x="41.60" y="279.26" width="3.19" height="74.04" fill="#5d89bb" stroke="#1e1e1e" stroke-width="0.6" />
<rect x="44.79" y="291.60" width="3.19" height="61.70" fill="#5d89bb" stroke="#1e1e1e" stroke-width="0.6" />
<rect x="47.98" y="322.45" width="3.19" height="30.85" fill="#5d89bb" stroke="#1e1e1e" stroke-width="0.6" />
<rect x="51.18" y="316.28" width="3.19" height="37.02" fill="#5d89bb" stroke="#1e1e1e" stroke-width="0.6" />
<rect x="54.37" y="347.13" width="3.19" height="6.17" fill="#5d89bb" stroke="#1e1e1e" stroke-width="0.6" />
<rect x="57.56" y="347.13" width="3.19" height="6.17" fill="#5d89bb" stroke="#1e1e1e" stroke-width="0.6" />
<rect x="63.95" y="347.13" width="3.19" height="6.17" fill="#5d89bb" stroke="#1e1e1e" stroke-width="0.6" />
<rect x="95.87" y="347.13" width="3.19" height="6.17" fill="#5d89bb" stroke="#1e1e1e" stroke-width="0.6" />
<line x1="41.60" y1="347.13" x2="44.79" y2="347.13" stroke="#1e1e1e" stroke-width="0.6" stroke-opacity="0.55"/>
<line x1="44.79" y1="347.13" x2="47.98" y2="347.13" stroke="#1e1e1e" stroke-width="0.6" stroke-opacity="0.55"/>
<line x1="47.98" y1="347.13" x2="51.18" y2="347.13" stroke="#1e1e1e" stroke-width="0.6" stroke-opacity="0.55"/>
<line x1="51.18" y1="347.13" x2="54.37" y2="347.13" stroke="#1e1e1e" stroke-width="0.6" stroke-opacity="0.55"/>
<line x1="41.60" y1="353.30" x2="124.60" y2="353.30" stroke="#1e1e1e" stroke-width="0.8" />
<line x1="98.50" y1="275.40" x2="98.50" y2="357.00" stroke="#7f9dbf" stroke-width="0.65" />
<line x1="105.80" y1="275.40" x2="105.80" y2="357.00" stroke="#c4c4c4" stroke-width="0.75" stroke-dasharray="2.6,1.8"/>
<line x1="35.40" y1="353.30" x2="37.40" y2="353.30" stroke="#444" stroke-width="0.6" />
<text x="34.40" y="355.86" font-size="7.3" text-anchor="end" fill="#4d4d4d" >0</text>
<line x1="35.40" y1="340.96" x2="37.40" y2="340.96" stroke="#444" stroke-width="0.6" />
<text x="34.40" y="343.52" font-size="7.3" text-anchor="end" fill="#4d4d4d" >2</text>
<line x1="35.40" y1="328.62" x2="37.40" y2="328.62" stroke="#444" stroke-width="0.6" />
<text x="34.40" y="331.18" font-size="7.3" text-anchor="end" fill="#4d4d4d" >4</text>
<line x1="35.40" y1="316.28" x2="37.40" y2="316.28" stroke="#444" stroke-width="0.6" />
<text x="34.40" y="318.84" font-size="7.3" text-anchor="end" fill="#4d4d4d" >6</text>
<line x1="35.40" y1="303.94" x2="37.40" y2="303.94" stroke="#444" stroke-width="0.6" />
<text x="34.40" y="306.50" font-size="7.3" text-anchor="end" fill="#4d4d4d" >8</text>
<line x1="35.40" y1="291.60" x2="37.40" y2="291.60" stroke="#444" stroke-width="0.6" />
<text x="34.40" y="294.16" font-size="7.3" text-anchor="end" fill="#4d4d4d" >10</text>
<line x1="35.40" y1="279.26" x2="37.40" y2="279.26" stroke="#444" stroke-width="0.6" />
<text x="34.40" y="281.81" font-size="7.3" text-anchor="end" fill="#4d4d4d" >12</text>
<line x1="41.60" y1="357.00" x2="41.60" y2="359.00" stroke="#444" stroke-width="0.6" />
<text x="41.60" y="365.00" font-size="7.3" text-anchor="middle" fill="#4d4d4d" >0</text>
<line x1="54.37" y1="357.00" x2="54.37" y2="359.00" stroke="#444" stroke-width="0.6" />
<text x="54.37" y="365.00" font-size="7.3" text-anchor="middle" fill="#4d4d4d" >1</text>
<line x1="67.14" y1="357.00" x2="67.14" y2="359.00" stroke="#444" stroke-width="0.6" />
<text x="67.14" y="365.00" font-size="7.3" text-anchor="middle" fill="#4d4d4d" >2</text>
<line x1="79.91" y1="357.00" x2="79.91" y2="359.00" stroke="#444" stroke-width="0.6" />
<text x="79.91" y="365.00" font-size="7.3" text-anchor="middle" fill="#4d4d4d" >3</text>
<line x1="92.68" y1="357.00" x2="92.68" y2="359.00" stroke="#444" stroke-width="0.6" />
<text x="92.68" y="365.00" font-size="7.3" text-anchor="middle" fill="#4d4d4d" >4</text>
<line x1="105.45" y1="357.00" x2="105.45" y2="359.00" stroke="#444" stroke-width="0.6" />
<text x="105.45" y="365.00" font-size="7.3" text-anchor="middle" fill="#4d4d4d" >5</text>
<line x1="118.22" y1="357.00" x2="118.22" y2="359.00" stroke="#444" stroke-width="0.6" />
<text x="118.22" y="365.00" font-size="7.3" text-anchor="middle" fill="#4d4d4d" >6</text>
<rect x="77.60" y="295.30" width="9.15" height="9.15" fill="#d0d0d0" stroke="#1e1e1e" stroke-width="0.7" />
<rect x="77.60" y="304.45" width="9.15" height="9.15" fill="#5d89bb" stroke="#1e1e1e" stroke-width="0.7" />
<line x1="77.60" y1="304.45" x2="86.75" y2="304.45" stroke="#1a2a40" stroke-width="1.4" />
<text x="90.05" y="302.25" font-size="7.5" text-anchor="start" fill="#111" >CpG Clock</text>
<text x="90.05" y="311.40" font-size="7.5" text-anchor="start" fill="#111" >PC Clock</text>
<text x="83.25" y="270.70" font-size="8.68" text-anchor="middle" fill="#111" >PhenoAge Old Data</text>
<text x="83.25" y="374.20" font-size="8.1" text-anchor="middle" fill="#111" >ImAge replicate differenceI</text>
<text x="0" y="0" font-size="8.1" text-anchor="middle" fill="#111" transform="translate(23.40,316.20) rotate(-90)" style="stroke-width:0.35px;stroke-opacity:0.8">count</text>
<rect x="155.50" y="275.40" width="92.10" height="81.60" fill="#fff" stroke="#858585" stroke-width="0.7" />
<rect x="159.50" y="316.25" width="4.17" height="37.05" fill="#d0d0d0" stroke="#1e1e1e" stroke-width="0.6" />
<rect x="163.68" y="316.25" width="4.17" height="37.05" fill="#d0d0d0" stroke="#1e1e1e" stroke-width="0.6" />
<rect x="167.85" y="316.25" width="4.17" height="37.05" fill="#d0d0d0" stroke="#1e1e1e" stroke-width="0.6" />
<rect x="176.20" y="331.07" width="4.17" height="22.23" fill="#d0d0d0" stroke="#1e1e1e" stroke-width="0.6" />
<rect x="184.55" y="301.43" width="4.17" height="51.87" fill="#d0d0d0" stroke="#1e1e1e" stroke-width="0.6" />
<rect x="201.25" y="338.48" width="4.17" height="14.82" fill="#d0d0d0" stroke="#1e1e1e" stroke-width="0.6" />
<rect x="205.43" y="345.89" width="4.17" height="7.41" fill="#d0d0d0" stroke="#1e1e1e" stroke-width="0.6" />
<rect x="209.60" y="345.89" width="4.17" height="7.41" fill="#d0d0d0" stroke="#1e1e1e" stroke-width="0.6" />
<rect x="217.95" y="345.89" width="4.17" height="7.41" fill="#d0d0d0" stroke="#1e1e1e" stroke-width="0.6" />
<rect x="222.12" y="345.89" width="4.17" height="7.41" fill="#d0d0d0" stroke="#1e1e1e" stroke-width="0.6" />
<rect x="159.50" y="294.02" width="4.17" height="59.28" fill="#5d89bb" stroke="#1e1e1e" stroke-width="0.6" />
<rect x="163.68" y="294.02" width="4.17" height="59.28" fill="#5d89bb" stroke="#1e1e1e" stroke-width="0.6" />
<rect x="167.85" y="279.20" width="4.17" height="74.10" fill="#5d89bb" stroke="#1e1e1e" stroke-width="0.6" />
<rect x="172.03" y="323.66" width="4.17" height="29.64" fill="#5d89bb" stroke="#1e1e1e" stroke-width="0.6" />
<rect x="176.20" y="338.48" width="4.17" height="14.82" fill="#5d89bb" stroke="#1e1e1e" stroke-width="0.6" />
<rect x="180.38" y="331.07" width="4.17" height="22.23" fill="#5d89bb" stroke="#1e1e1e" stroke-width="0.6" />
<rect x="184.55" y="345.89" width="4.17" height="7.41" fill="#5d89bb" stroke="#1e1e1e" stroke-width="0.6" />
<line x1="159.50" y1="316.25" x2="163.68" y2="316.25" stroke="#1e1e1e" stroke-width="0.6" stroke-opacity="0.55"/>
<line x1="163.68" y1="316.25" x2="167.85" y2="316.25" stroke="#1e1e1e" stroke-width="0.6" stroke-opacity="0.55"/>
<line x1="167.85" y1="316.25" x2="172.03" y2="316.25" stroke="#1e1e1e" stroke-width="0.6" stroke-opacity="0.55"/>
<line x1="159.50" y1="353.30" x2="243.00" y2="353.30" stroke="#1e1e1e" stroke-width="0.8" />
<line x1="241.90" y1="275.40" x2="241.90" y2="357.00" stroke="#c4c4c4" stroke-width="0.75" stroke-dasharray="2.6,1.8"/>
<line x1="242.70" y1="275.40" x2="242.70" y2="357.00" stroke="#7f9dbf" stroke-width="0.65" />
<line x1="153.50" y1="353.30" x2="155.50" y2="353.30" stroke="#444" stroke-width="0.6" />
<text x="152.50" y="355.86" font-size="7.3" text-anchor="end" fill="#4d4d4d" >0</text>
<line x1="153.50" y1="338.48" x2="155.50" y2="338.48" stroke="#444" stroke-width="0.6" />
<text x="152.50" y="341.04" font-size="7.3" text-anchor="end" fill="#4d4d4d" >2</text>
<line x1="153.50" y1="323.66" x2="155.50" y2="323.66" stroke="#444" stroke-width="0.6" />
<text x="152.50" y="326.22" font-size="7.3" text-anchor="end" fill="#4d4d4d" >4</text>
<line x1="153.50" y1="308.84" x2="155.50" y2="308.84" stroke="#444" stroke-width="0.6" />
<text x="152.50" y="311.40" font-size="7.3" text-anchor="end" fill="#4d4d4d" >6</text>
<line x1="153.50" y1="294.02" x2="155.50" y2="294.02" stroke="#444" stroke-width="0.6" />
<text x="152.50" y="296.57" font-size="7.3" text-anchor="end" fill="#4d4d4d" >8</text>
<line x1="153.50" y1="279.20" x2="155.50" y2="279.20" stroke="#444" stroke-width="0.6" />
<text x="152.50" y="281.76" font-size="7.3" text-anchor="end" fill="#4d4d4d" >10</text>
<line x1="159.50" y1="357.00" x2="159.50" y2="359.00" stroke="#444" stroke-width="0.6" />
<text x="159.50" y="365.00" font-size="7.3" text-anchor="middle" fill="#4d4d4d" >0</text>
<line x1="176.20" y1="357.00" x2="176.20" y2="359.00" stroke="#444" stroke-width="0.6" />
<text x="176.20" y="365.00" font-size="7.3" text-anchor="middle" fill="#4d4d4d" >1</text>
<line x1="192.90" y1="357.00" x2="192.90" y2="359.00" stroke="#444" stroke-width="0.6" />
<text x="192.90" y="365.00" font-size="7.3" text-anchor="middle" fill="#4d4d4d" >2</text>
<line x1="209.60" y1="357.00" x2="209.60" y2="359.00" stroke="#444" stroke-width="0.6" />
<text x="209.60" y="365.00" font-size="7.3" text-anchor="middle" fill="#4d4d4d" >3</text>
<line x1="226.30" y1="357.00" x2="226.30" y2="359.00" stroke="#444" stroke-width="0.6" />
<text x="226.30" y="365.00" font-size="7.3" text-anchor="middle" fill="#4d4d4d" >4</text>
<line x1="243.00" y1="357.00" x2="243.00" y2="359.00" stroke="#444" stroke-width="0.6" />
<text x="243.00" y="365.00" font-size="7.3" text-anchor="middle" fill="#4d4d4d" >5</text>
<rect x="195.50" y="295.30" width="9.15" height="9.15" fill="#d0d0d0" stroke="#1e1e1e" stroke-width="0.7" />
<rect x="195.50" y="304.45" width="9.15" height="9.15" fill="#5d89bb" stroke="#1e1e1e" stroke-width="0.7" />
<line x1="195.50" y1="304.45" x2="204.65" y2="304.45" stroke="#1a2a40" stroke-width="1.4" />
<text x="207.95" y="302.25" font-size="7.5" text-anchor="start" fill="#111" >CpG Clock</text>
<text x="207.95" y="311.40" font-size="7.5" text-anchor="start" fill="#111" >PC Clock</text>
<text x="201.55" y="270.70" font-size="8.68" text-anchor="middle" fill="#111" >PhenoAge New Data</text>
<text x="201.55" y="374.20" font-size="8.1" text-anchor="middle" fill="#111" >ImAge replicate differenceI</text>
<text x="0" y="0" font-size="8.1" text-anchor="middle" fill="#111" transform="translate(141.60,316.20) rotate(-90)" style="stroke-width:0.35px;stroke-opacity:0.8">count</text>
<rect x="384.40" y="157.30" width="91.70" height="81.30" fill="#fff" stroke="#858585" stroke-width="0.7" />
<rect x="389.10" y="218.80" width="5.20" height="16.80" fill="#d0d0d0" stroke="#1e1e1e" stroke-width="0.6" />
<rect x="394.30" y="221.20" width="5.20" height="14.40" fill="#d0d0d0" stroke="#1e1e1e" stroke-width="0.6" />
<rect x="399.50" y="216.40" width="5.20" height="19.20" fill="#d0d0d0" stroke="#1e1e1e" stroke-width="0.6" />
<rect x="404.70" y="218.80" width="5.20" height="16.80" fill="#d0d0d0" stroke="#1e1e1e" stroke-width="0.6" />
<rect x="409.90" y="233.20" width="5.20" height="2.40" fill="#d0d0d0" stroke="#1e1e1e" stroke-width="0.6" />
<rect x="415.10" y="233.20" width="5.20" height="2.40" fill="#d0d0d0" stroke="#1e1e1e" stroke-width="0.6" />
<rect x="420.30" y="230.80" width="5.20" height="4.80" fill="#d0d0d0" stroke="#1e1e1e" stroke-width="0.6" />
<rect x="425.50" y="233.20" width="5.20" height="2.40" fill="#d0d0d0" stroke="#1e1e1e" stroke-width="0.6" />
<rect x="446.30" y="233.20" width="5.20" height="2.40" fill="#d0d0d0" stroke="#1e1e1e" stroke-width="0.6" />
<rect x="389.10" y="161.20" width="5.20" height="74.40" fill="#5d89bb" stroke="#1e1e1e" stroke-width="0.6" />
<rect x="394.30" y="228.40" width="5.20" height="7.20" fill="#5d89bb" stroke="#1e1e1e" stroke-width="0.6" />
<line x1="389.10" y1="218.80" x2="394.30" y2="218.80" stroke="#1e1e1e" stroke-width="0.6" stroke-opacity="0.55"/>
<line x1="389.10" y1="235.60" x2="472.30" y2="235.60" stroke="#1e1e1e" stroke-width="0.8" />
<line x1="382.40" y1="235.60" x2="384.40" y2="235.60" stroke="#444" stroke-width="0.6" />
<text x="381.40" y="238.16" font-size="7.3" text-anchor="end" fill="#4d4d4d" >0</text>
<line x1="382.40" y1="223.60" x2="384.40" y2="223.60" stroke="#444" stroke-width="0.6" />
<text x="381.40" y="226.16" font-size="7.3" text-anchor="end" fill="#4d4d4d" >5</text>
<line x1="382.40" y1="211.60" x2="384.40" y2="211.60" stroke="#444" stroke-width="0.6" />
<text x="381.40" y="214.16" font-size="7.3" text-anchor="end" fill="#4d4d4d" >10</text>
<line x1="382.40" y1="199.60" x2="384.40" y2="199.60" stroke="#444" stroke-width="0.6" />
<text x="381.40" y="202.16" font-size="7.3" text-anchor="end" fill="#4d4d4d" >15</text>
<line x1="382.40" y1="187.60" x2="384.40" y2="187.60" stroke="#444" stroke-width="0.6" />
<text x="381.40" y="190.16" font-size="7.3" text-anchor="end" fill="#4d4d4d" >20</text>
<line x1="382.40" y1="175.60" x2="384.40" y2="175.60" stroke="#444" stroke-width="0.6" />
<text x="381.40" y="178.16" font-size="7.3" text-anchor="end" fill="#4d4d4d" >25</text>
<line x1="382.40" y1="163.60" x2="384.40" y2="163.60" stroke="#444" stroke-width="0.6" />
<text x="381.40" y="166.16" font-size="7.3" text-anchor="end" fill="#4d4d4d" >30</text>
<line x1="389.10" y1="238.60" x2="389.10" y2="240.60" stroke="#444" stroke-width="0.6" />
<text x="389.10" y="247.00" font-size="7.3" text-anchor="middle" fill="#4d4d4d" >0</text>
<line x1="409.90" y1="238.60" x2="409.90" y2="240.60" stroke="#444" stroke-width="0.6" />
<text x="409.90" y="247.00" font-size="7.3" text-anchor="middle" fill="#4d4d4d" >1</text>
<line x1="430.70" y1="238.60" x2="430.70" y2="240.60" stroke="#444" stroke-width="0.6" />
<text x="430.70" y="247.00" font-size="7.3" text-anchor="middle" fill="#4d4d4d" >2</text>
<line x1="451.50" y1="238.60" x2="451.50" y2="240.60" stroke="#444" stroke-width="0.6" />
<text x="451.50" y="247.00" font-size="7.3" text-anchor="middle" fill="#4d4d4d" >3</text>
<line x1="472.30" y1="238.60" x2="472.30" y2="240.60" stroke="#444" stroke-width="0.6" />
<text x="472.30" y="247.00" font-size="7.3" text-anchor="middle" fill="#4d4d4d" >4</text>
<rect x="424.50" y="177.10" width="9.15" height="9.15" fill="#d0d0d0" stroke="#1e1e1e" stroke-width="0.7" />
<rect x="424.50" y="186.25" width="9.15" height="9.15" fill="#5d89bb" stroke="#1e1e1e" stroke-width="0.7" />
<line x1="424.50" y1="186.25" x2="433.65" y2="186.25" stroke="#1a2a40" stroke-width="1.4" />
<text x="436.95" y="184.06" font-size="7.5" text-anchor="start" fill="#111" >CpG Clock</text>
<text x="436.95" y="193.21" font-size="7.5" text-anchor="start" fill="#111" >PC Clock</text>
<text x="430.25" y="152.40" font-size="8.68" text-anchor="middle" fill="#111" >Horvath1 New Data</text>
<text x="430.25" y="256.40" font-size="8.1" text-anchor="middle" fill="#111" >Ireplicate differenceI</text>
<text x="0" y="0" font-size="8.1" text-anchor="middle" fill="#111" transform="translate(370.30,197.95) rotate(-90)" style="stroke-width:0.35px;stroke-opacity:0.8">count</text>
<rect x="502.40" y="157.30" width="91.70" height="81.30" fill="#fff" stroke="#858585" stroke-width="0.7" />
<rect x="507.10" y="193.04" width="5.20" height="42.56" fill="#d0d0d0" stroke="#1e1e1e" stroke-width="0.6" />
<rect x="512.30" y="211.66" width="5.20" height="23.94" fill="#d0d0d0" stroke="#1e1e1e" stroke-width="0.6" />
<rect x="517.50" y="232.94" width="5.20" height="2.66" fill="#d0d0d0" stroke="#1e1e1e" stroke-width="0.6" />
<rect x="522.70" y="216.98" width="5.20" height="18.62" fill="#d0d0d0" stroke="#1e1e1e" stroke-width="0.6" />
<rect x="527.90" y="232.94" width="5.20" height="2.66" fill="#d0d0d0" stroke="#1e1e1e" stroke-width="0.6" />
<rect x="507.10" y="161.12" width="5.20" height="74.48" fill="#5d89bb" stroke="#1e1e1e" stroke-width="0.6" />
<rect x="512.30" y="219.64" width="5.20" height="15.96" fill="#5d89bb" stroke="#1e1e1e" stroke-width="0.6" />
<line x1="507.10" y1="193.04" x2="512.30" y2="193.04" stroke="#1e1e1e" stroke-width="0.6" stroke-opacity="0.55"/>
<line x1="507.10" y1="235.60" x2="590.30" y2="235.60" stroke="#1e1e1e" stroke-width="0.8" />
<line x1="500.40" y1="235.60" x2="502.40" y2="235.60" stroke="#444" stroke-width="0.6" />
<text x="499.40" y="238.16" font-size="7.3" text-anchor="end" fill="#4d4d4d" >0</text>
<line x1="500.40" y1="222.30" x2="502.40" y2="222.30" stroke="#444" stroke-width="0.6" />
<text x="499.40" y="224.85" font-size="7.3" text-anchor="end" fill="#4d4d4d" >5</text>
<line x1="500.40" y1="209.00" x2="502.40" y2="209.00" stroke="#444" stroke-width="0.6" />
<text x="499.40" y="211.56" font-size="7.3" text-anchor="end" fill="#4d4d4d" >10</text>
<line x1="500.40" y1="195.70" x2="502.40" y2="195.70" stroke="#444" stroke-width="0.6" />
<text x="499.40" y="198.25" font-size="7.3" text-anchor="end" fill="#4d4d4d" >15</text>
<line x1="500.40" y1="182.40" x2="502.40" y2="182.40" stroke="#444" stroke-width="0.6" />
<text x="499.40" y="184.95" font-size="7.3" text-anchor="end" fill="#4d4d4d" >20</text>
<line x1="500.40" y1="169.10" x2="502.40" y2="169.10" stroke="#444" stroke-width="0.6" />
<text x="499.40" y="171.66" font-size="7.3" text-anchor="end" fill="#4d4d4d" >25</text>
<line x1="507.10" y1="238.60" x2="507.10" y2="240.60" stroke="#444" stroke-width="0.6" />
<text x="507.10" y="247.00" font-size="7.3" text-anchor="middle" fill="#4d4d4d" >0</text>
<line x1="527.90" y1="238.60" x2="527.90" y2="240.60" stroke="#444" stroke-width="0.6" />
<text x="527.90" y="247.00" font-size="7.3" text-anchor="middle" fill="#4d4d4d" >1</text>
<line x1="548.70" y1="238.60" x2="548.70" y2="240.60" stroke="#444" stroke-width="0.6" />
<text x="548.70" y="247.00" font-size="7.3" text-anchor="middle" fill="#4d4d4d" >2</text>
<line x1="569.50" y1="238.60" x2="569.50" y2="240.60" stroke="#444" stroke-width="0.6" />
<text x="569.50" y="247.00" font-size="7.3" text-anchor="middle" fill="#4d4d4d" >3</text>
<line x1="590.30" y1="238.60" x2="590.30" y2="240.60" stroke="#444" stroke-width="0.6" />
<text x="590.30" y="247.00" font-size="7.3" text-anchor="middle" fill="#4d4d4d" >4</text>
<rect x="542.60" y="177.10" width="9.15" height="9.15" fill="#d0d0d0" stroke="#1e1e1e" stroke-width="0.7" />
<rect x="542.60" y="186.25" width="9.15" height="9.15" fill="#5d89bb" stroke="#1e1e1e" stroke-width="0.7" />
<line x1="542.60" y1="186.25" x2="551.75" y2="186.25" stroke="#1a2a40" stroke-width="1.4" />
<text x="555.05" y="184.06" font-size="7.5" text-anchor="start" fill="#111" >CpG Clock</text>
<text x="555.05" y="193.21" font-size="7.5" text-anchor="start" fill="#111" >PC Clock</text>
<text x="548.25" y="152.40" font-size="8.68" text-anchor="middle" fill="#111" >Horvath2 New Data</text>
<text x="548.25" y="256.40" font-size="8.1" text-anchor="middle" fill="#111" >Ireplicate differenceI</text>
<text x="0" y="0" font-size="8.1" text-anchor="middle" fill="#111" transform="translate(488.30,197.95) rotate(-90)" style="stroke-width:0.35px;stroke-opacity:0.8">count</text>
<rect x="384.40" y="275.60" width="91.70" height="81.30" fill="#fff" stroke="#858585" stroke-width="0.7" />
<rect x="389.10" y="348.58" width="5.20" height="4.62" fill="#d0d0d0" stroke="#1e1e1e" stroke-width="0.6" />
<rect x="394.30" y="350.89" width="5.20" height="2.31" fill="#d0d0d0" stroke="#1e1e1e" stroke-width="0.6" />
<rect x="399.50" y="341.65" width="5.20" height="11.55" fill="#d0d0d0" stroke="#1e1e1e" stroke-width="0.6" />
<rect x="404.70" y="348.58" width="5.20" height="4.62" fill="#d0d0d0" stroke="#1e1e1e" stroke-width="0.6" />
<rect x="409.90" y="348.58" width="5.20" height="4.62" fill="#d0d0d0" stroke="#1e1e1e" stroke-width="0.6" />
<rect x="415.10" y="350.89" width="5.20" height="2.31" fill="#d0d0d0" stroke="#1e1e1e" stroke-width="0.6" />
<rect x="420.30" y="339.34" width="5.20" height="13.86" fill="#d0d0d0" stroke="#1e1e1e" stroke-width="0.6" />
<rect x="425.50" y="343.96" width="5.20" height="9.24" fill="#d0d0d0" stroke="#1e1e1e" stroke-width="0.6" />
<rect x="430.70" y="350.89" width="5.20" height="2.31" fill="#d0d0d0" stroke="#1e1e1e" stroke-width="0.6" />
<rect x="441.10" y="350.89" width="5.20" height="2.31" fill="#d0d0d0" stroke="#1e1e1e" stroke-width="0.6" />
<rect x="446.30" y="343.96" width="5.20" height="9.24" fill="#d0d0d0" stroke="#1e1e1e" stroke-width="0.6" />
<rect x="451.50" y="348.58" width="5.20" height="4.62" fill="#d0d0d0" stroke="#1e1e1e" stroke-width="0.6" />
<rect x="467.10" y="350.89" width="5.20" height="2.31" fill="#d0d0d0" stroke="#1e1e1e" stroke-width="0.6" />
<rect x="389.10" y="279.28" width="5.20" height="73.92" fill="#5d89bb" stroke="#1e1e1e" stroke-width="0.6" />
<rect x="394.30" y="348.58" width="5.20" height="4.62" fill="#5d89bb" stroke="#1e1e1e" stroke-width="0.6" />
<line x1="389.10" y1="348.58" x2="394.30" y2="348.58" stroke="#1e1e1e" stroke-width="0.6" stroke-opacity="0.55"/>
<line x1="394.30" y1="350.89" x2="399.50" y2="350.89" stroke="#1e1e1e" stroke-width="0.6" stroke-opacity="0.55"/>
<line x1="389.10" y1="353.20" x2="472.30" y2="353.20" stroke="#1e1e1e" stroke-width="0.8" />
<line x1="382.40" y1="353.20" x2="384.40" y2="353.20" stroke="#444" stroke-width="0.6" />
<text x="381.40" y="355.75" font-size="7.3" text-anchor="end" fill="#4d4d4d" >0</text>
<line x1="382.40" y1="341.65" x2="384.40" y2="341.65" stroke="#444" stroke-width="0.6" />
<text x="381.40" y="344.20" font-size="7.3" text-anchor="end" fill="#4d4d4d" >5</text>
<line x1="382.40" y1="330.10" x2="384.40" y2="330.10" stroke="#444" stroke-width="0.6" />
<text x="381.40" y="332.65" font-size="7.3" text-anchor="end" fill="#4d4d4d" >10</text>
<line x1="382.40" y1="318.55" x2="384.40" y2="318.55" stroke="#444" stroke-width="0.6" />
<text x="381.40" y="321.11" font-size="7.3" text-anchor="end" fill="#4d4d4d" >15</text>
<line x1="382.40" y1="307.00" x2="384.40" y2="307.00" stroke="#444" stroke-width="0.6" />
<text x="381.40" y="309.56" font-size="7.3" text-anchor="end" fill="#4d4d4d" >20</text>
<line x1="382.40" y1="295.45" x2="384.40" y2="295.45" stroke="#444" stroke-width="0.6" />
<text x="381.40" y="298.00" font-size="7.3" text-anchor="end" fill="#4d4d4d" >25</text>
<line x1="382.40" y1="283.90" x2="384.40" y2="283.90" stroke="#444" stroke-width="0.6" />
<text x="381.40" y="286.45" font-size="7.3" text-anchor="end" fill="#4d4d4d" >30</text>
<line x1="389.10" y1="356.90" x2="389.10" y2="358.90" stroke="#444" stroke-width="0.6" />
<text x="389.10" y="365.00" font-size="7.3" text-anchor="middle" fill="#4d4d4d" >0</text>
<line x1="409.90" y1="356.90" x2="409.90" y2="358.90" stroke="#444" stroke-width="0.6" />
<text x="409.90" y="365.00" font-size="7.3" text-anchor="middle" fill="#4d4d4d" >1</text>
<line x1="430.70" y1="356.90" x2="430.70" y2="358.90" stroke="#444" stroke-width="0.6" />
<text x="430.70" y="365.00" font-size="7.3" text-anchor="middle" fill="#4d4d4d" >2</text>
<line x1="451.50" y1="356.90" x2="451.50" y2="358.90" stroke="#444" stroke-width="0.6" />
<text x="451.50" y="365.00" font-size="7.3" text-anchor="middle" fill="#4d4d4d" >3</text>
<line x1="472.30" y1="356.90" x2="472.30" y2="358.90" stroke="#444" stroke-width="0.6" />
<text x="472.30" y="365.00" font-size="7.3" text-anchor="middle" fill="#4d4d4d" >4</text>
<rect x="424.50" y="295.50" width="9.15" height="9.15" fill="#d0d0d0" stroke="#1e1e1e" stroke-width="0.7" />
<rect x="424.50" y="304.65" width="9.15" height="9.15" fill="#5d89bb" stroke="#1e1e1e" stroke-width="0.7" />
<line x1="424.50" y1="304.65" x2="433.65" y2="304.65" stroke="#1a2a40" stroke-width="1.4" />
<text x="436.95" y="302.45" font-size="7.5" text-anchor="start" fill="#111" >CpG Clock</text>
<text x="436.95" y="311.61" font-size="7.5" text-anchor="start" fill="#111" >PC Clock</text>
<text x="430.25" y="270.80" font-size="8.68" text-anchor="middle" fill="#111" >PhenoAge Old Data</text>
<text x="430.25" y="374.20" font-size="8.1" text-anchor="middle" fill="#111" >Ireplicate differenceI</text>
<text x="0" y="0" font-size="8.1" text-anchor="middle" fill="#111" transform="translate(370.30,316.25) rotate(-90)" style="stroke-width:0.35px;stroke-opacity:0.8">count</text>
<rect x="502.40" y="275.00" width="91.70" height="82.00" fill="#fff" stroke="#858585" stroke-width="0.7" />
<rect x="507.10" y="337.90" width="5.20" height="15.30" fill="#d0d0d0" stroke="#1e1e1e" stroke-width="0.6" />
<rect x="512.30" y="345.55" width="5.20" height="7.65" fill="#d0d0d0" stroke="#1e1e1e" stroke-width="0.6" />
<rect x="517.50" y="340.45" width="5.20" height="12.75" fill="#d0d0d0" stroke="#1e1e1e" stroke-width="0.6" />
<rect x="522.70" y="343.00" width="5.20" height="10.20" fill="#d0d0d0" stroke="#1e1e1e" stroke-width="0.6" />
<rect x="527.90" y="348.10" width="5.20" height="5.10" fill="#d0d0d0" stroke="#1e1e1e" stroke-width="0.6" />
<rect x="533.10" y="348.10" width="5.20" height="5.10" fill="#d0d0d0" stroke="#1e1e1e" stroke-width="0.6" />
<rect x="538.30" y="348.10" width="5.20" height="5.10" fill="#d0d0d0" stroke="#1e1e1e" stroke-width="0.6" />
<rect x="543.50" y="343.00" width="5.20" height="10.20" fill="#d0d0d0" stroke="#1e1e1e" stroke-width="0.6" />
<rect x="548.70" y="345.55" width="5.20" height="7.65" fill="#d0d0d0" stroke="#1e1e1e" stroke-width="0.6" />
<rect x="553.90" y="350.65" width="5.20" height="2.55" fill="#d0d0d0" stroke="#1e1e1e" stroke-width="0.6" />
<rect x="559.10" y="350.65" width="5.20" height="2.55" fill="#d0d0d0" stroke="#1e1e1e" stroke-width="0.6" />
<rect x="569.50" y="350.65" width="5.20" height="2.55" fill="#d0d0d0" stroke="#1e1e1e" stroke-width="0.6" />
<rect x="507.10" y="279.25" width="5.20" height="73.95" fill="#5d89bb" stroke="#1e1e1e" stroke-width="0.6" />
<rect x="512.30" y="340.45" width="5.20" height="12.75" fill="#5d89bb" stroke="#1e1e1e" stroke-width="0.6" />
<line x1="507.10" y1="337.90" x2="512.30" y2="337.90" stroke="#1e1e1e" stroke-width="0.6" stroke-opacity="0.55"/>
<line x1="512.30" y1="345.55" x2="517.50" y2="345.55" stroke="#1e1e1e" stroke-width="0.6" stroke-opacity="0.55"/>
<line x1="507.10" y1="353.20" x2="590.30" y2="353.20" stroke="#1e1e1e" stroke-width="0.8" />
<line x1="500.40" y1="353.20" x2="502.40" y2="353.20" stroke="#444" stroke-width="0.6" />
<text x="499.40" y="355.75" font-size="7.3" text-anchor="end" fill="#4d4d4d" >0</text>
<line x1="500.40" y1="340.45" x2="502.40" y2="340.45" stroke="#444" stroke-width="0.6" />
<text x="499.40" y="343.00" font-size="7.3" text-anchor="end" fill="#4d4d4d" >5</text>
<line x1="500.40" y1="327.70" x2="502.40" y2="327.70" stroke="#444" stroke-width="0.6" />
<text x="499.40" y="330.25" font-size="7.3" text-anchor="end" fill="#4d4d4d" >10</text>
<line x1="500.40" y1="314.95" x2="502.40" y2="314.95" stroke="#444" stroke-width="0.6" />
<text x="499.40" y="317.50" font-size="7.3" text-anchor="end" fill="#4d4d4d" >15</text>
<line x1="500.40" y1="302.20" x2="502.40" y2="302.20" stroke="#444" stroke-width="0.6" />
<text x="499.40" y="304.75" font-size="7.3" text-anchor="end" fill="#4d4d4d" >20</text>
<line x1="500.40" y1="289.45" x2="502.40" y2="289.45" stroke="#444" stroke-width="0.6" />
<text x="499.40" y="292.00" font-size="7.3" text-anchor="end" fill="#4d4d4d" >25</text>
<line x1="500.40" y1="276.70" x2="502.40" y2="276.70" stroke="#444" stroke-width="0.6" />
<text x="499.40" y="279.25" font-size="7.3" text-anchor="end" fill="#4d4d4d" >30</text>
<line x1="507.10" y1="357.00" x2="507.10" y2="359.00" stroke="#444" stroke-width="0.6" />
<text x="507.10" y="365.00" font-size="7.3" text-anchor="middle" fill="#4d4d4d" >0</text>
<line x1="527.90" y1="357.00" x2="527.90" y2="359.00" stroke="#444" stroke-width="0.6" />
<text x="527.90" y="365.00" font-size="7.3" text-anchor="middle" fill="#4d4d4d" >1</text>
<line x1="548.70" y1="357.00" x2="548.70" y2="359.00" stroke="#444" stroke-width="0.6" />
<text x="548.70" y="365.00" font-size="7.3" text-anchor="middle" fill="#4d4d4d" >2</text>
<line x1="569.50" y1="357.00" x2="569.50" y2="359.00" stroke="#444" stroke-width="0.6" />
<text x="569.50" y="365.00" font-size="7.3" text-anchor="middle" fill="#4d4d4d" >3</text>
<line x1="590.30" y1="357.00" x2="590.30" y2="359.00" stroke="#444" stroke-width="0.6" />
<text x="590.30" y="365.00" font-size="7.3" text-anchor="middle" fill="#4d4d4d" >4</text>
<rect x="542.60" y="295.50" width="9.15" height="9.15" fill="#d0d0d0" stroke="#1e1e1e" stroke-width="0.7" />
<rect x="542.60" y="304.65" width="9.15" height="9.15" fill="#5d89bb" stroke="#1e1e1e" stroke-width="0.7" />
<line x1="542.60" y1="304.65" x2="551.75" y2="304.65" stroke="#1a2a40" stroke-width="1.4" />
<text x="555.05" y="302.45" font-size="7.5" text-anchor="start" fill="#111" >CpG Clock</text>
<text x="555.05" y="311.61" font-size="7.5" text-anchor="start" fill="#111" >PC Clock</text>
<text x="548.25" y="270.80" font-size="8.68" text-anchor="middle" fill="#111" >PhenoAge New Data</text>
<text x="548.25" y="374.20" font-size="8.1" text-anchor="middle" fill="#111" >Ireplicate differenceI</text>
<text x="0" y="0" font-size="8.1" text-anchor="middle" fill="#111" transform="translate(488.30,316.00) rotate(-90)" style="stroke-width:0.35px;stroke-opacity:0.8">count</text>
</svg>
</body></html>
